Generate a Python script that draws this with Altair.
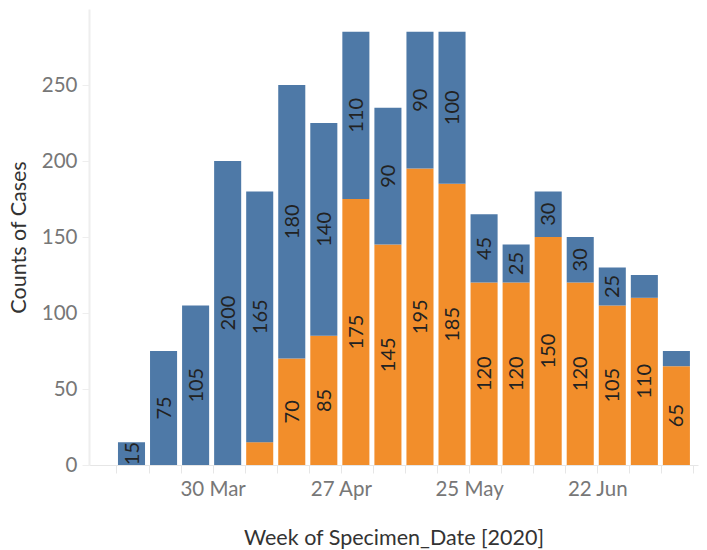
import altair as alt
import pandas as pd

weeks = ["2020-03-09", "2020-03-16", "2020-03-23", "2020-03-30", "2020-04-06",
         "2020-04-13", "2020-04-20", "2020-04-27", "2020-05-04", "2020-05-11",
         "2020-05-18", "2020-05-25", "2020-06-01", "2020-06-08", "2020-06-15",
         "2020-06-22", "2020-06-29", "2020-07-06"]
blue_vals = [15, 75, 105, 200, 165, 180, 140, 110, 90, 90, 100, 45, 25, 30, 30, 25, 15, 10]
orange_vals = [0, 0, 0, 0, 15, 70, 85, 175, 145, 195, 185, 120, 120, 150, 120, 105, 110, 65]
blue_labels = [15, 75, 105, 200, 165, 180, 140, 110, 90, 90, 100, 45, 25, 30, 30, 25, None, None]
orange_labels = [None, None, None, None, None, 70, 85, 175, 145, 195, 185, 120, 120, 150, 120, 105, 110, 65]
groups = ["Group B", "Group A"]  # blue on top, orange at bottom
colors = ["#4e79a7", "#f28e2b"]
tick_weeks = ["2020-03-09", "2020-03-16", "2020-03-23", "2020-03-30", "2020-04-06",
              "2020-04-13", "2020-04-20", "2020-04-27", "2020-05-04", "2020-05-11",
              "2020-05-18", "2020-05-25", "2020-06-01", "2020-06-08", "2020-06-15",
              "2020-06-22", "2020-06-29", "2020-07-06", "2020-07-13"]
first_labelled_week = "2020-03-30"   # then every 4 weeks: 27 Apr, 25 May, 22 Jun
y_ticks = [0, 50, 100, 150, 200, 250]

rows = []
for i, w in enumerate(weeks):
    start = pd.Timestamp(w)
    end = (start + pd.Timedelta(days=7)).strftime("%Y-%m-%d")
    mid = (start + pd.Timedelta(hours=84)).strftime("%Y-%m-%dT%H:%M:%SZ")
    rows.append({"week": w, "end": end, "mid_x": mid, "group": groups[1], "order": 0,
                 "value": orange_vals[i],
                 "label": "" if orange_labels[i] is None else str(orange_labels[i])})
    rows.append({"week": w, "end": end, "mid_x": mid, "group": groups[0], "order": 1,
                 "value": blue_vals[i],
                 "label": "" if blue_labels[i] is None else str(blue_labels[i])})
df = pd.DataFrame(rows)


def dt(s):
    t = pd.Timestamp(s)
    return alt.DateTime(year=t.year, month=t.month, date=t.day, utc=True)


def ms(s):
    return int(pd.Timestamp(s, tz="UTC").value // 10**6)


FONT = "Lato"
x_scale = alt.Scale(type="utc", domain=[dt("2020-03-03"), dt("2020-07-14")])
y_scale = alt.Scale(domain=[0, 300], nice=False, zero=True)

label_expr = ("abs((+datum.value - %d) %% %d) < 86400000 ? "
              "utcFormat(datum.value, '%%d %%b') : ''" % (ms(first_labelled_week), 28 * 86400000))

x_axis = alt.Axis(values=[dt(t) for t in tick_weeks], labelExpr=label_expr,
                  labelOverlap=False,
                  title="Week of Specimen_Date [2020]", grid=False,
                  domainColor="#e6e6e6", tickColor="#e6e6e6", tickSize=8,
                  labelFontSize=20.5, labelColor="#777777", labelPadding=6,
                  labelFont=FONT, titleFont=FONT, titleFontSize=21.5,
                  titleFontWeight="normal", titleColor="#333333",
                  titlePadding=28)
y_axis = alt.Axis(values=y_ticks, title="Counts of Cases", grid=False,
                  domainColor="#eeeeee", domainWidth=2, tickColor="#eeeeee",
                  tickSize=7, labelFontSize=20.5, labelColor="#777777",
                  labelPadding=5, labelFont=FONT, titleFont=FONT,
                  titleFontSize=21.5, titleFontWeight="normal",
                  titleColor="#333333", titlePadding=11)

base = alt.Chart(df).transform_stack(
    stack="value", groupby=["week"], sort=[alt.SortField("order", order="ascending")],
    as_=["y0", "y1"]
).transform_calculate(mid="(datum.y0 + datum.y1) / 2")

bars = base.mark_bar(xOffset=1.5, x2Offset=-3.5).encode(
    x=alt.X("week:T", scale=x_scale, axis=x_axis, title="Week of Specimen_Date [2020]"),
    x2="end:T",
    y=alt.Y("y0:Q", scale=y_scale, axis=y_axis, title="Counts of Cases"),
    y2="y1:Q",
    color=alt.Color("group:N", scale=alt.Scale(domain=groups, range=colors), legend=None),
)

labels = base.mark_text(angle=270, align="center", baseline="middle", fontSize=20,
                        font=FONT, color="#222222").encode(
    x=alt.X("mid_x:T", scale=x_scale, axis=x_axis, title="Week of Specimen_Date [2020]"),
    y=alt.Y("mid:Q", scale=y_scale, axis=y_axis, title="Counts of Cases"),
    text="label:N",
)

chart = alt.layer(bars, labels).properties(
    width=609, height=456,
    autosize=alt.AutoSizeParams(type="none"),
    padding={"left": 81, "top": 1, "right": 1, "bottom": 84},
).configure_view(stroke=None)

chart.save("out.html", embed_options={"renderer": "svg", "actions": False})
